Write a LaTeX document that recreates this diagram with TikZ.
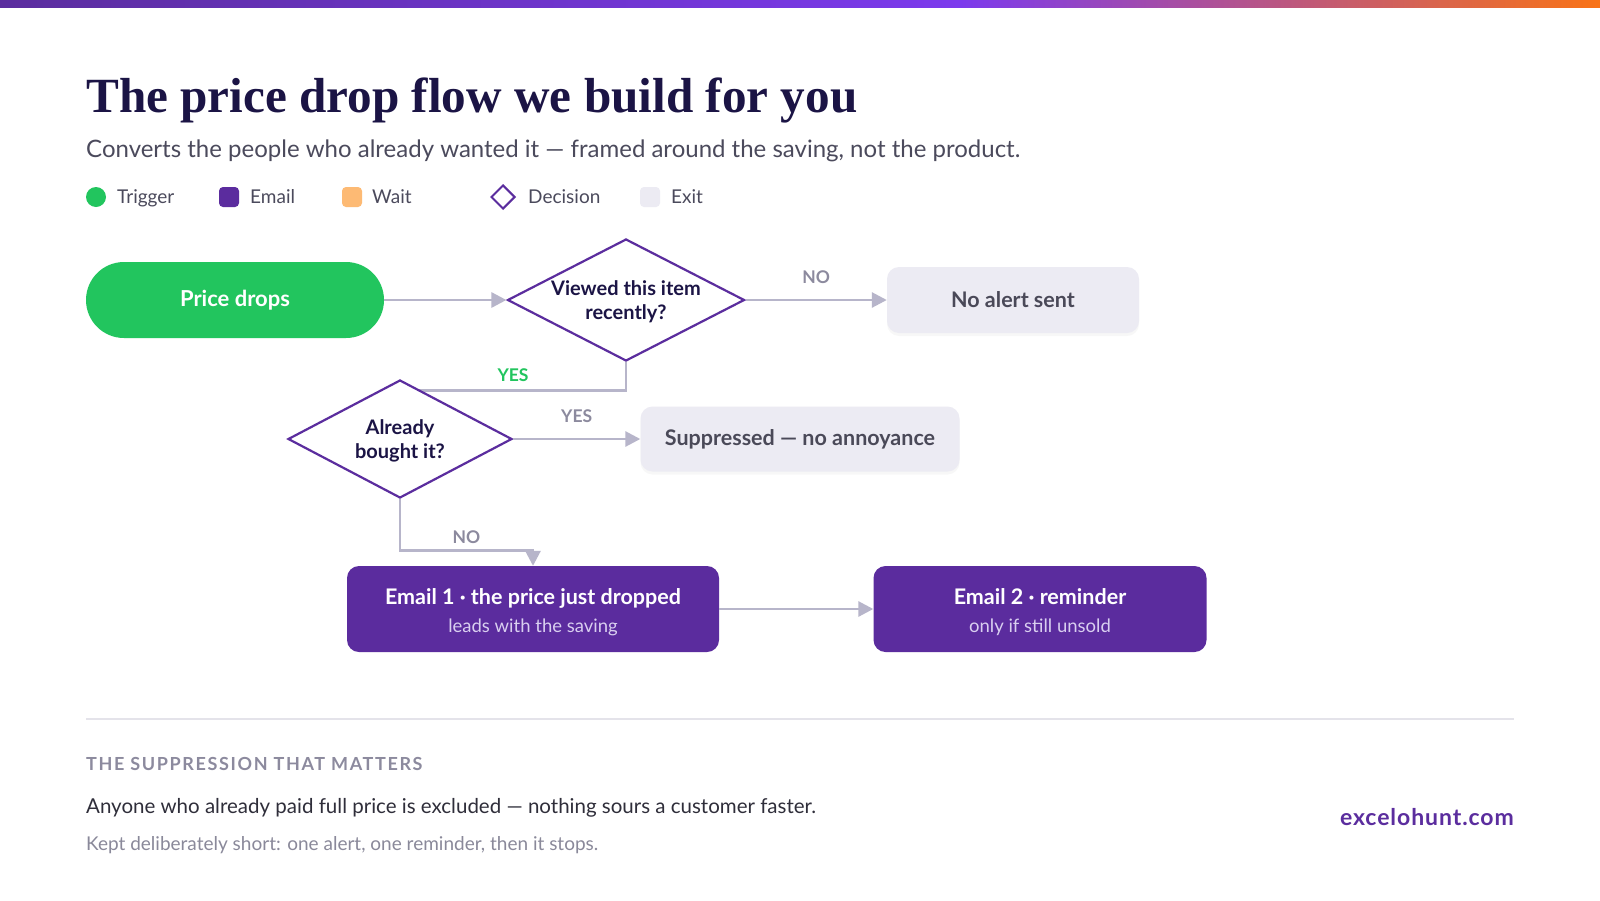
\documentclass[tikz,border=0pt]{standalone}
\usepackage{fontspec}
\setmainfont{Lato}
\newfontfamily\titlefont{Liberation Serif}
\usepackage{xcolor}
\usetikzlibrary{shapes.geometric,arrows.meta,positioning,shadows,backgrounds}

\definecolor{barA}{HTML}{5B2D9E}
\definecolor{barB}{HTML}{7C3AED}
\definecolor{barC}{HTML}{F97316}
\definecolor{navy}{HTML}{1B1445}
\definecolor{subgray}{HTML}{4B4A5C}
\definecolor{triggreen}{HTML}{22C55E}
\definecolor{mailpurple}{HTML}{5B2C9E}
\definecolor{mailsub}{HTML}{D9CFF0}
\definecolor{waitorange}{HTML}{FDBA74}
\definecolor{exitfill}{HTML}{ECEBF3}
\definecolor{exittext}{HTML}{4A4958}
\definecolor{flowgray}{HTML}{B7B5CA}
\definecolor{lblgray}{HTML}{8C8A9E}
\definecolor{rulegray}{HTML}{E4E3EA}
\definecolor{notegray}{HTML}{8A899A}
\definecolor{bodygray}{HTML}{2F2E3A}

\newcommand\mailnotefont{\color{mailsub}\mdseries\fontsize{18.5}{22}\selectfont}

\pgfdeclarehorizontalshading{topbar}{100bp}{color(0bp)=(barA); color(25bp)=(barA); color(55bp)=(barB); color(75bp)=(barC); color(100bp)=(barC)}

\begin{document}
\begin{tikzpicture}[x=1pt, y=-1pt,
	trigger/.style={rectangle, rounded corners=38pt, fill=triggreen, text=white, minimum width=298pt, minimum height=76pt, font=\bfseries\fontsize{22}{26}\selectfont},
	decision/.style={diamond, draw=barA, line width=2.2pt, fill=white, inner sep=0pt, minimum width=#1, aspect=1.94},
	decisiontext/.style={align=center, text=navy, font=\bfseries\fontsize{20}{24}\selectfont},
	exitbox/.style={rectangle, rounded corners=12pt, fill=exitfill, text=exittext, font=\bfseries\fontsize{21.5}{25}\selectfont, drop shadow={opacity=0.06, shadow xshift=0pt, shadow yshift=-3pt}},
	emailbox/.style={rectangle, rounded corners=12pt, fill=mailpurple, text=white, align=center, minimum height=86pt, font=\bfseries\fontsize{21.5}{26}\selectfont},
	flow/.style={-{Triangle[length=15pt, width=15pt]}, line width=2.8pt, draw=flowgray},
	link/.style={line width=2.8pt, draw=flowgray},
	lbl/.style={text=lblgray, font=\bfseries\fontsize{17.5}{20}\selectfont},
	legtext/.style={anchor=base west, inner sep=0pt, text=subgray, font=\fontsize{19}{22}\selectfont},
	legbox/.style={rectangle, rounded corners=4pt, minimum size=20pt, inner sep=0pt}]

	\begin{scope}[on background layer]
		\fill[white] (0,0) rectangle (1600,900);
	\end{scope}
	\useasboundingbox (0,0) rectangle (1600,900);
	\shade[shading=topbar] (0,0) rectangle (1600,7);

	% heading
	\node[anchor=base west, inner sep=0pt, text=navy, font=\titlefont\bfseries\fontsize{49.2}{58}\selectfont] (title) at (86,112) {The price drop flow we build for you};
	\node[anchor=base west, inner sep=0pt, text=subgray, font=\fontsize{24}{28}\selectfont] (subtitle) at (86,157) {Converts the people who already wanted it — framed around the saving, not the product.};

	% legend
	\node[circle, fill=triggreen, minimum size=20pt, inner sep=0pt] (legtrig) at (96,197) {};
	\node[legtext] (legtrigtxt) at (117,203) {Trigger};
	\node[legbox, fill=mailpurple] (legmail) at (229,197) {};
	\node[legtext] (legmailtxt) at (250,203) {Email};
	\node[legbox, fill=waitorange] (legwait) at (352,197) {};
	\node[legtext] (legwaittxt) at (372,203) {Wait};
	\node[diamond, draw=barA, line width=2pt, minimum size=24pt, inner sep=0pt] (legdec) at (503,197) {};
	\node[legtext] (legdectxt) at (528,203) {Decision};
	\node[legbox, fill=exitfill] (legexit) at (650,197) {};
	\node[legtext] (legexittxt) at (671,203) {Exit};

	% flow
	\node[trigger] (pricedrops) at (235,300) {Price drops};
	\node[decision=237pt, minimum height=122pt] (viewed) at (626,300) {};
	\node[decisiontext] (viewedtxt) at (626,302) {Viewed this item\\recently?};
	\node[exitbox, minimum width=252pt, minimum height=66pt] (noalert) at (1013,300) {No alert sent};
	\node[decision=224pt, minimum height=118pt] (bought) at (400,439) {};
	\node[decisiontext] (boughttxt) at (400,441) {Already\\bought it?};
	\node[exitbox, minimum width=319pt, minimum height=65pt] (suppressed) at (800,439) {Suppressed — no annoyance};
	\node[emailbox, minimum width=372pt] (email1) at (533,609) {\rule{0pt}{22pt}Email 1 · the price just dropped\\[2pt]{\mailnotefont leads with the saving}};
	\node[emailbox, minimum width=333pt] (email2) at (1040,609) {\rule{0pt}{22pt}Email 2 · reminder\\[2pt]{\mailnotefont only if still unsold}};

	\draw[flow] (pricedrops) -- (viewed);
	\draw[flow] (viewed) -- node[lbl, above=12pt] {NO} (noalert);
	\begin{scope}[on background layer]
		\draw[link] (viewed.south) -- ++(0,28) -| node[pos=0.25, above=4pt, text=triggreen, font=\bfseries\fontsize{17.5}{20}\selectfont] {YES} (bought.center);
	\end{scope}
	\draw[flow] (bought) -- node[lbl, above=12pt] {YES} (suppressed);
	\draw[flow] (bought.south) -- ++(0,51) -| node[pos=0.25, lbl, above=2pt] {NO} (email1.north);
	\draw[flow] (email1) -- (email2);

	% footer
	\draw[rulegray, line width=1.2pt] (86,719) -- (1514,719);
	\node[anchor=base west, inner sep=0pt, text=lblgray, font=\bfseries\fontsize{18}{20}\selectfont\addfontfeatures{LetterSpace=9}] (notehead) at (86,770) {THE SUPPRESSION THAT MATTERS};
	\node[anchor=base west, inner sep=0pt, text=bodygray, font=\fontsize{20.5}{24}\selectfont] (notebody) at (86,813) {Anyone who already paid full price is excluded — nothing sours a customer faster.};
	\node[anchor=base west, inner sep=0pt, text=notegray, font=\fontsize{19}{22}\selectfont] (notefoot) at (86,850) {Kept deliberately short: one alert, one reminder, then it stops.};
	\node[anchor=base east, inner sep=0pt, text=barA, font=\bfseries\fontsize{23}{26}\selectfont\addfontfeatures{LetterSpace=4}] (brand) at (1514,825) {excelohunt.com};
\end{tikzpicture}
\end{document}
